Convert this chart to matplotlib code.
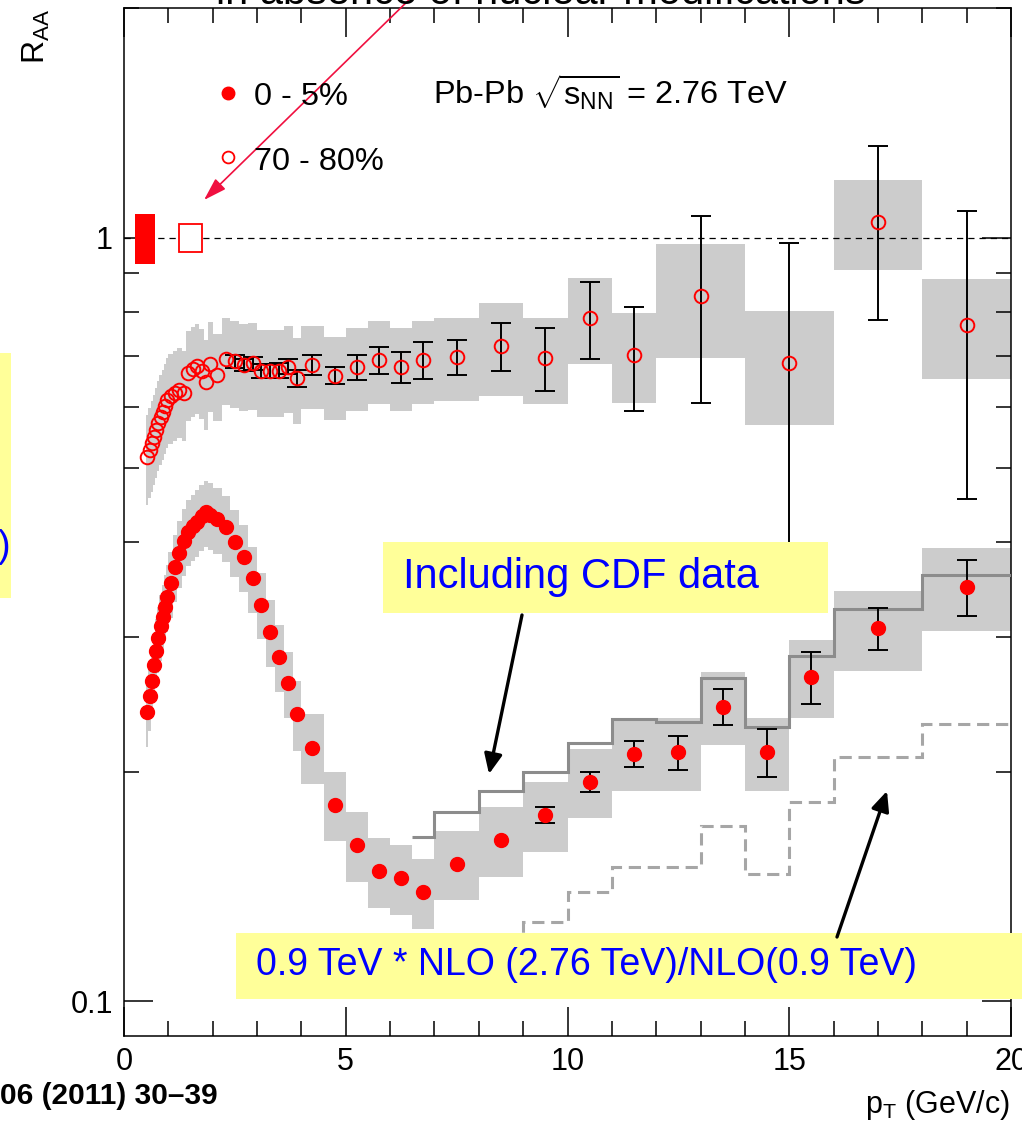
import numpy as np
import matplotlib
matplotlib.use('Agg')
import matplotlib.pyplot as plt
from matplotlib.patches import Rectangle
from matplotlib.ticker import MultipleLocator, FixedLocator, NullFormatter, LogLocator

plt.rcParams['font.family'] = ['Liberation Sans', 'DejaVu Sans']
plt.rcParams['mathtext.fontset'] = 'custom'
plt.rcParams['mathtext.rm'] = 'Liberation Sans'
plt.rcParams['mathtext.it'] = 'Liberation Sans:italic'
plt.rcParams['mathtext.default'] = 'regular'

W, H = 1022, 1129

# pT bin edges (GeV/c)
edges_low = [0.5, 0.55, 0.6, 0.65, 0.7, 0.75, 0.8, 0.85, 0.9, 0.95,
             1.0, 1.1, 1.2, 1.3, 1.4, 1.5, 1.6, 1.7, 1.8, 1.9,
             2.0, 2.2, 2.4, 2.6, 2.8, 3.0, 3.2, 3.4, 3.6, 3.8,
             4.0, 4.5, 5.0, 5.5, 6.0, 6.5, 7.0, 8.0, 9.0, 10.0]
edges_cen = edges_low + [11, 12, 13, 14, 15, 16, 18, 20]
edges_per = edges_low + [11, 12, 14, 16, 18, 20]

# 0-5 % central
raa_cen = [0.239, 0.251, 0.263, 0.276, 0.288, 0.299, 0.310, 0.319, 0.329, 0.339,
           0.353, 0.371, 0.387, 0.401, 0.4125, 0.419, 0.425, 0.432, 0.437, 0.434,
           0.428, 0.418, 0.400, 0.382, 0.358, 0.331, 0.305, 0.2825, 0.261, 0.238,
           0.215, 0.181, 0.1604, 0.1483, 0.145, 0.139,
           0.1515, 0.1628, 0.1756,
           0.194, 0.211, 0.212, 0.2433, 0.212, 0.266, 0.308, 0.349]
stat_cen = [0, 0, 0, 0, 0, 0, 0, 0, 0, 0,
            0, 0, 0, 0, 0, 0, 0, 0, 0, 0,
            0, 0, 0, 0, 0, 0, 0, 0, 0, 0,
            0, 0, 0, 0, 0, 0,
            0, 0, 0.0043,
            0.0059, 0.0083, 0.0108, 0.0133, 0.0155, 0.021, 0.0195, 0.029]
sys_cen = [0.10, 0.10, 0.10, 0.10, 0.10, 0.10, 0.10, 0.10, 0.10, 0.10,
           0.10, 0.10, 0.10, 0.10, 0.10, 0.10, 0.10, 0.10, 0.10, 0.10,
           0.10, 0.10, 0.10, 0.10, 0.10, 0.10, 0.10, 0.10, 0.10, 0.105,
           0.105, 0.105, 0.105, 0.105, 0.105, 0.105,
           0.105, 0.105, 0.105,
           0.105, 0.105, 0.11, 0.11, 0.11, 0.117, 0.12, 0.125]

# 70-80 % peripheral
raa_per = [0.517, 0.528, 0.538, 0.549, 0.561, 0.572, 0.582, 0.592, 0.603, 0.614,
           0.621, 0.626, 0.632, 0.627, 0.666, 0.673, 0.680, 0.670, 0.648, 0.683,
           0.662, 0.694, 0.689, 0.682, 0.685, 0.670, 0.670, 0.670, 0.678, 0.655,
           0.682, 0.660, 0.677, 0.692, 0.677, 0.692,
           0.699, 0.721, 0.696,
           0.785, 0.703, 0.838, 0.685, 1.050, 0.769]
stat_per = [0, 0, 0, 0, 0, 0, 0, 0, 0, 0,
            0, 0, 0, 0, 0, 0, 0, 0, 0, 0,
            0, 0, 0.013, 0.012, 0.013, 0.014, 0.014, 0.015, 0.015, 0.017,
            0.020, 0.017, 0.0255, 0.0285, 0.0315, 0.039,
            0.037, 0.052, 0.066,
            0.0905, 0.109, 0.23, 0.30, 0.269, 0.314]
sys_per = [0.135, 0.135, 0.135, 0.135, 0.135, 0.135, 0.135, 0.135, 0.135, 0.135,
           0.135, 0.135, 0.135, 0.135, 0.135, 0.135, 0.135, 0.135, 0.135, 0.135,
           0.13, 0.13, 0.13, 0.13, 0.13, 0.13, 0.13, 0.13, 0.13, 0.13,
           0.125, 0.125, 0.125, 0.125, 0.125, 0.125,
           0.125, 0.14, 0.13,
           0.13, 0.135, 0.17, 0.17, 0.135, 0.15]

# normalisation uncertainties drawn at R_AA = 1: pT from, pT to, rel. unc.
norm_cen = [0.25, 0.70, 0.076]
norm_per = [1.25, 1.77, 0.043]

# reference curves (step histograms)
cdf_edges = [6.5, 7, 8, 9, 10, 11, 12, 13, 14, 15, 16, 18, 20]
cdf_vals = [0.1644, 0.1773, 0.1884, 0.200, 0.218, 0.2345, 0.232, 0.265, 0.229, 0.2836, 0.3266, 0.362]
nlo_edges = [8, 9, 10, 11, 13, 14, 15, 16, 18, 20]
nlo_vals = [0.112, 0.1272, 0.139, 0.150, 0.1698, 0.1468, 0.1823, 0.209, 0.2308]


def fx(px):
    return px / W


def fy(py):
    return 1 - py / H


fig = plt.figure(figsize=(W / 100, H / 100), dpi=100)
ax = fig.add_axes([fx(124), fy(1036), fx(1011) - fx(124), fy(8) - fy(1036)])
ax.set_yscale('log')
ax.set_xlim(0, 20)
ax.set_ylim(0.0901, 2.0)


def draw_set(edges, raa, stat, sys_rel, filled):
    e = np.array(edges)
    r = np.array(raa)
    st = np.array(stat)
    x = (e[:-1] + e[1:]) / 2
    for lo, hi, v, s in zip(e[:-1], e[1:], r, sys_rel):
        ax.add_patch(Rectangle((lo, v * (1 - s)), hi - lo, 2 * v * s,
                               fc='#cccccc', ec='none', zorder=1))
    m = st > 0
    ax.errorbar(x[m], r[m], yerr=st[m], fmt='none', ecolor='black',
                elinewidth=1.4, capsize=7, capthick=1.4, zorder=4)
    if filled:
        ax.plot(x, r, 'o', color='red', ms=10, mec='red', zorder=5)
    else:
        ax.plot(x, r, 'o', mfc='none', mec='red', mew=1.4, ms=9.8, zorder=5)


draw_set(edges_cen, raa_cen, stat_cen, sys_cen, True)
draw_set(edges_per, raa_per, stat_per, sys_per, False)

ax.stairs(cdf_vals, cdf_edges, baseline=None, color='#8c8c8c', lw=2.2, zorder=3)
ax.stairs(nlo_vals, nlo_edges, baseline=None, color='#a6a6a6', lw=2.2,
          ls=(0, (4, 2.2)), zorder=3)

ax.axhline(1, color='black', lw=0.9, ls=(0, (5, 4)), zorder=2)
ax.add_patch(Rectangle((norm_cen[0], 1 - norm_cen[2]), norm_cen[1] - norm_cen[0],
                       2 * norm_cen[2], fc='red', ec='none', zorder=3))
ax.add_patch(Rectangle((norm_per[0], 1 - norm_per[2]), norm_per[1] - norm_per[0],
                       2 * norm_per[2], fc='white', ec='red', lw=1.3, zorder=3))

# axes / ticks
for sp in ax.spines.values():
    sp.set_linewidth(1.1)
ax.xaxis.set_major_locator(FixedLocator([0, 5, 10, 15, 20]))
ax.xaxis.set_minor_locator(MultipleLocator(1))
ax.yaxis.set_major_locator(FixedLocator([0.1, 1]))
ax.yaxis.set_minor_locator(LogLocator(base=10, subs=np.arange(2, 10)))
ax.yaxis.set_minor_formatter(NullFormatter())
ax.set_yticklabels(['0.1', '1'])
ax.tick_params(which='both', direction='in', top=True, right=True, width=1.1,
               labelsize=22, pad=8, colors='black')
ax.tick_params(which='major', length=21)
ax.tick_params(which='minor', length=10.5)

# legend
ax.plot([fx(228)], [fy(93)], 'o', color='red', ms=9, transform=fig.transFigure, clip_on=False)
ax.plot([fx(228)], [fy(157)], 'o', mfc='white', mec='red', mew=1.3, ms=8.5,
        transform=fig.transFigure, clip_on=False)
fig.text(fx(254), fy(105), '0 - 5%', fontsize=23.4, va='baseline')
fig.text(fx(254), fy(170), '70 - 80%', fontsize=23.4, va='baseline')
fig.text(fx(433), fy(105), r'Pb-Pb $\sqrt{s_{NN}}$ = 2.76 TeV', fontsize=23.4, va='baseline')

# axis titles
fig.text(fx(36), fy(9), r'R$_{AA}$', fontsize=23, rotation=90, ha='center', va='top')
fig.text(fx(1010), fy(1113), r'p$_T$ (GeV/c)', fontsize=22, ha='right', va='baseline')

# overlaid annotations
fig.text(fx(216), fy(4), 'in absence of nuclear modifications', fontsize=30, va='baseline')
fig.text(fx(218), fy(1104), '06 (2011) 30\u201339', fontsize=21.5, weight='bold',
         ha='right', va='baseline')

for x0, y0, x1, y1 in [(383, 542, 828, 613), (236, 933, 1030, 999), (-10, 353, 11, 598)]:
    ax.add_patch(Rectangle((fx(x0), fy(y1)), fx(x1) - fx(x0), fy(y0) - fy(y1),
                           transform=fig.transFigure, fc='#ffff99', ec='none',
                           clip_on=False, zorder=10))
fig.text(fx(403), fy(588), 'Including CDF data', fontsize=30, color='#0000ff',
         va='baseline', zorder=11)
fig.text(fx(256), fy(975), '0.9 TeV * NLO (2.76 TeV)/NLO(0.9 TeV)', fontsize=27,
         color='#0000ff', va='baseline', zorder=11)
fig.text(fx(10), fy(557), ')', fontsize=27, color='#0000ff', ha='right',
         va='baseline', zorder=11)

arrow_k = dict(arrowstyle='-|>,head_length=0.6,head_width=0.27', color='black',
               lw=2.4, mutation_scale=20, shrinkA=0, shrinkB=0)
ax.annotate('', xy=(fx(489), fy(774)), xytext=(fx(522), fy(615)),
            xycoords='figure fraction', textcoords='figure fraction',
            arrowprops=arrow_k, zorder=12)
ax.annotate('', xy=(fx(887), fy(791)), xytext=(fx(837), fy(937)),
            xycoords='figure fraction', textcoords='figure fraction',
            arrowprops=arrow_k, zorder=12)
ax.annotate('', xy=(fx(204), fy(200)), xytext=(fx(415), fy(-6)),
            xycoords='figure fraction', textcoords='figure fraction',
            arrowprops=dict(arrowstyle='-|>,head_length=0.7,head_width=0.22',
                            color='#f01040', lw=1.2, mutation_scale=20,
                            shrinkA=0, shrinkB=0), zorder=12)

fig.savefig('out.png', dpi=100)
